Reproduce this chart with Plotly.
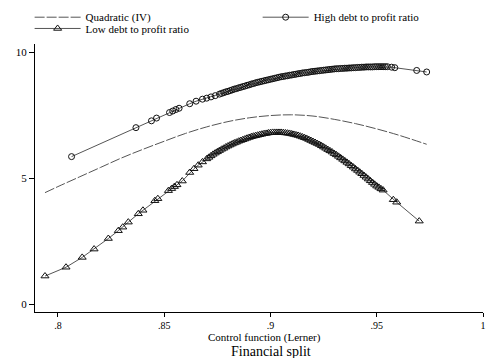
import plotly.graph_objects as go

# Quadratic (IV) fitted line
quad_x = [0.7939, 0.800, 0.810, 0.820, 0.830, 0.840, 0.850, 0.860, 0.870, 0.880,
          0.890, 0.900, 0.910, 0.920, 0.930, 0.940, 0.950, 0.960, 0.9735]
quad_y = [4.42, 4.66, 5.04, 5.42, 5.80, 6.14, 6.46, 6.77, 7.03, 7.24,
          7.39, 7.48, 7.51, 7.46, 7.33, 7.16, 6.95, 6.71, 6.34]

# High debt to profit ratio
high_x = [0.8064, 0.8367, 0.8440, 0.8464, 0.8525, 0.8540, 0.8555, 0.8570, 0.8620, 0.8650, 0.8680,
          0.870, 0.872, 0.874,
          0.876, 0.877, 0.878, 0.879, 0.880, 0.881, 0.882, 0.883, 0.884, 0.885,
          0.886, 0.887, 0.888, 0.889, 0.890, 0.891, 0.892, 0.893, 0.894, 0.895,
          0.896, 0.897, 0.898, 0.899, 0.900, 0.901, 0.902, 0.903, 0.904, 0.905,
          0.906, 0.907, 0.908, 0.909, 0.910, 0.911, 0.912, 0.913, 0.914, 0.915,
          0.916, 0.917, 0.918, 0.919, 0.920, 0.921, 0.922, 0.923, 0.924, 0.925,
          0.926, 0.927, 0.928, 0.929, 0.930, 0.931, 0.932, 0.933, 0.934, 0.935,
          0.936, 0.937, 0.938, 0.939, 0.940, 0.941, 0.942, 0.943, 0.944, 0.945,
          0.946, 0.947, 0.948, 0.949, 0.950, 0.951, 0.952, 0.953, 0.954, 0.955,
          0.9570, 0.9585, 0.9688, 0.9735]
high_y = [5.85, 7.00, 7.27, 7.38, 7.60, 7.66, 7.72, 7.77, 7.95, 8.05, 8.13,
          8.17, 8.22, 8.27,
          8.33, 8.36, 8.39, 8.42, 8.44, 8.47, 8.50, 8.53, 8.55, 8.58,
          8.60, 8.63, 8.65, 8.68, 8.70, 8.73, 8.75, 8.78, 8.80, 8.82,
          8.84, 8.86, 8.88, 8.90, 8.92, 8.94, 8.96, 8.98, 9.00, 9.02,
          9.03, 9.05, 9.06, 9.08, 9.09, 9.11, 9.12, 9.14, 9.15, 9.17,
          9.18, 9.19, 9.20, 9.22, 9.23, 9.24, 9.25, 9.26, 9.27, 9.28,
          9.29, 9.30, 9.31, 9.32, 9.33, 9.34, 9.34, 9.35, 9.35, 9.36,
          9.36, 9.37, 9.37, 9.38, 9.38, 9.39, 9.39, 9.40, 9.40, 9.41,
          9.41, 9.41, 9.41, 9.42, 9.42, 9.42, 9.42, 9.42, 9.42, 9.42,
          9.40, 9.38, 9.27, 9.21]

# Low debt to profit ratio
low_x = [0.7939, 0.8038, 0.8114, 0.8170, 0.8237, 0.8284, 0.8305, 0.8331, 0.8378, 0.8400,
         0.8456, 0.8470, 0.8520, 0.8535, 0.8548, 0.8560, 0.8585,
         0.862, 0.864, 0.866, 0.868,
         0.870, 0.871, 0.872, 0.873, 0.874, 0.875, 0.876, 0.877, 0.878, 0.879,
         0.880, 0.881, 0.882, 0.883, 0.884, 0.885, 0.886, 0.887, 0.888, 0.889,
         0.890, 0.891, 0.892, 0.893, 0.894, 0.895, 0.896, 0.897, 0.898, 0.899,
         0.900, 0.901, 0.902, 0.903, 0.904, 0.905, 0.906, 0.907, 0.908, 0.909,
         0.910, 0.911, 0.912, 0.913, 0.914, 0.915, 0.916, 0.917, 0.918, 0.919,
         0.920, 0.921, 0.922, 0.923, 0.924, 0.925, 0.926, 0.927, 0.928, 0.929,
         0.930, 0.931, 0.932, 0.933, 0.934, 0.935, 0.936, 0.937, 0.938, 0.939,
         0.940, 0.941, 0.942, 0.943, 0.944, 0.945, 0.946, 0.947, 0.948, 0.949,
         0.950, 0.951, 0.952, 0.953,
         0.9578, 0.9594, 0.9700]
low_y = [1.11, 1.46, 1.85, 2.18, 2.60, 2.91, 3.05, 3.25, 3.58, 3.72,
         4.10, 4.18, 4.50, 4.58, 4.66, 4.73, 4.88,
         5.22, 5.37, 5.51, 5.64,
         5.76, 5.82, 5.88, 5.94, 5.99, 6.04, 6.09, 6.14, 6.18, 6.23,
         6.27, 6.31, 6.35, 6.39, 6.42, 6.46, 6.49, 6.52, 6.55, 6.58,
         6.61, 6.64, 6.66, 6.68, 6.70, 6.72, 6.74, 6.76, 6.77, 6.79,
         6.80, 6.81, 6.81, 6.81, 6.81, 6.81, 6.80, 6.79, 6.78, 6.77,
         6.75, 6.73, 6.71, 6.69, 6.66, 6.63, 6.60, 6.57, 6.53, 6.49,
         6.45, 6.41, 6.37, 6.33, 6.28, 6.23, 6.18, 6.13, 6.08, 6.03,
         5.97, 5.92, 5.86, 5.80, 5.74, 5.68, 5.62, 5.56, 5.49, 5.43,
         5.36, 5.30, 5.23, 5.17, 5.10, 5.03, 4.96, 4.89, 4.82, 4.75,
         4.68, 4.63, 4.57, 4.52,
         4.14, 4.04, 3.29]

x_tickvals = [0.8, 0.85, 0.9, 0.95, 1.0]
x_ticktext = [".8", ".85", ".9", ".95", "1"]
y_tickvals = [0, 5, 10]

FONT = "Liberation Serif, Times New Roman, serif"
LINE_COL = "#555555"
MARK_COL = "#111111"

fig = go.Figure()
fig.add_trace(go.Scatter(
    x=quad_x, y=quad_y, mode="lines", name="Quadratic (IV)", legend="legend",
    line=dict(color=LINE_COL, width=1, dash="10px,2px"), line_shape="spline"))
fig.add_trace(go.Scatter(
    x=high_x, y=high_y, mode="lines+markers", name="High debt to profit ratio",
    legend="legend2",
    line=dict(color=LINE_COL, width=1),
    marker=dict(symbol="circle-open", size=6, color=MARK_COL, line=dict(width=1))))
fig.add_trace(go.Scatter(
    x=low_x, y=low_y, mode="lines+markers", name="Low debt to profit ratio",
    legend="legend3",
    line=dict(color=LINE_COL, width=1),
    marker=dict(symbol="triangle-up-open", size=7, color=MARK_COL, line=dict(width=1))))

leg_common = dict(xanchor="left", yanchor="middle", itemwidth=46,
                  font=dict(family=FONT, size=11, color="black"),
                  bgcolor="rgba(0,0,0,0)", borderwidth=0)

fig.update_layout(
    width=486, height=358, autosize=False,
    margin=dict(l=35, r=3, t=44, b=46, autoexpand=False),
    paper_bgcolor="white", plot_bgcolor="white",
    font=dict(family=FONT, size=11, color="black"),
    showlegend=True,
    legend=dict(x=-0.012, y=1.100, **leg_common),
    legend2=dict(x=0.497, y=1.100, **leg_common),
    legend3=dict(x=-0.012, y=1.058, **leg_common),
    xaxis=dict(range=[0.7892, 1.0], tickvals=x_tickvals, ticktext=x_ticktext,
               showgrid=False, zeroline=False, showline=True, linecolor="black",
               linewidth=1, ticks="outside", ticklen=4, tickcolor="black",
               tickfont=dict(family=FONT, size=10)),
    yaxis=dict(range=[-0.317, 10.32], tickvals=y_tickvals,
               showgrid=False, zeroline=False, showline=True, linecolor="black",
               linewidth=1, ticks="outside", ticklen=5, tickcolor="black",
               tickfont=dict(family=FONT, size=11)),
    annotations=[
        dict(text="Control function (Lerner)", x=0.513, y=-0.095, xref="paper", yref="paper",
             showarrow=False, xanchor="center", yanchor="middle", borderpad=0,
             font=dict(family=FONT, size=11)),
        dict(text="Financial split", x=0.527, y=-0.147, xref="paper", yref="paper",
             showarrow=False, xanchor="center", yanchor="middle", borderpad=0,
             font=dict(family=FONT, size=14)),
    ],
)

fig.write_html("out.html", config={"displayModeBar": False},
               post_script="document.body.style.margin='0';document.body.style.overflow='hidden';")
